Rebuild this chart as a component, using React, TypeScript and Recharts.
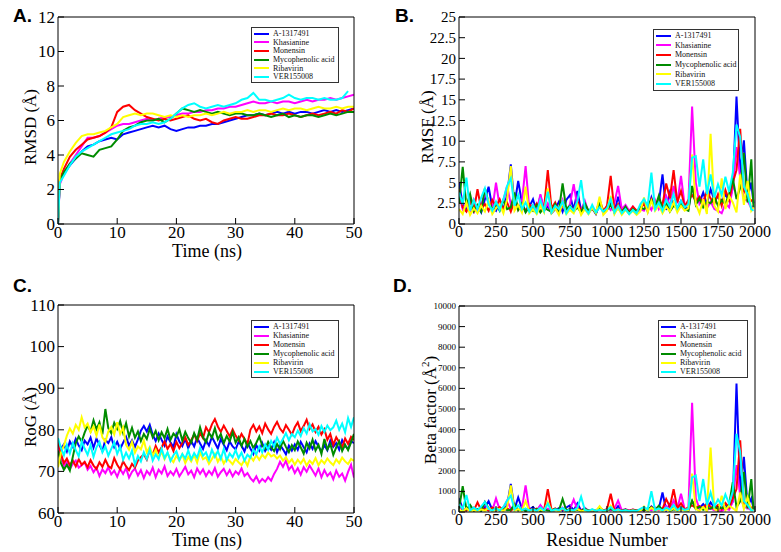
import React from "react";
import { LineChart, Line, XAxis, YAxis } from "recharts";

const seriesNames = ["A-1317491", "Khasianine", "Monensin", "Mycophenolic acid", "Ribavirin", "VER155008"];
const seriesKeys = ["a1317491", "khasianine", "monensin", "mycophenolic", "ribavirin", "ver155008"];
const seriesColors = ["#0000ff", "#ff00ff", "#ff0000", "#008b00", "#ffff00", "#00ffff"];

// A. RMSD (Å) over time (ns)
const rmsdTime = [0, 0.3, 1, 2, 3, 4, 5, 6, 7, 8, 9, 10, 11, 12, 13, 14, 15, 16, 17, 18, 19, 20, 21, 22, 23, 24, 25,
  26, 27, 28, 29, 30, 31, 32, 33, 34, 35, 36, 37, 38, 39, 40, 41, 42, 43, 44, 45, 46, 47, 48, 49, 50];
const rmsdA1317491 = [0, 2.5, 2.9, 3.4, 3.8, 4.2, 4.5, 4.6, 4.8, 4.9, 5.0, 4.9, 5.2, 5.3, 5.4, 5.5, 5.6, 5.7, 5.6, 5.7,
  5.5, 5.4, 5.5, 5.6, 5.6, 5.7, 5.7, 5.8, 5.8, 5.9, 6.0, 6.1, 6.2, 6.3, 6.3, 6.4, 6.3, 6.4, 6.5, 6.4, 6.5, 6.4, 6.5,
  6.5, 6.4, 6.5, 6.6, 6.5, 6.6, 6.5, 6.6, 6.7];
const rmsdKhasianine = [0, 2.3, 2.9, 3.5, 4.0, 4.5, 5.0, 5.0, 5.1, 5.3, 5.5, 5.7, 5.8, 5.8, 5.9, 6.0, 6.1, 6.0, 6.1, 6.2,
  6.2, 6.3, 6.4, 6.4, 6.5, 6.5, 6.6, 6.6, 6.7, 6.7, 6.8, 6.8, 6.9, 7.0, 7.1, 7.0, 7.0, 7.1, 7.0, 7.1, 7.1, 7.0, 7.1,
  7.2, 7.1, 7.2, 7.2, 7.3, 7.2, 7.3, 7.4, 7.5];
const rmsdMonensin = [0, 2.6, 3.2, 3.9, 4.3, 4.6, 4.9, 5.0, 5.1, 5.3, 5.6, 6.5, 6.8, 6.9, 6.6, 6.4, 6.2, 6.1, 6.0, 6.1,
  6.0, 6.1, 6.2, 6.3, 6.1, 6.0, 6.1, 5.9, 5.8, 6.0, 6.1, 6.2, 6.1, 6.1, 6.2, 6.3, 6.3, 6.4, 6.3, 6.3, 6.4, 6.3, 6.2,
  6.3, 6.4, 6.3, 6.4, 6.5, 6.4, 6.6, 6.5, 6.7];
const rmsdMycophenolic = [0, 2.5, 3.0, 3.5, 3.8, 4.1, 4.0, 3.9, 4.3, 4.4, 4.5, 4.9, 5.4, 5.6, 5.7, 5.9, 6.0, 6.0, 6.1,
  5.9, 6.1, 6.4, 6.7, 6.6, 6.5, 6.6, 6.5, 6.4, 6.5, 6.4, 6.3, 6.4, 6.4, 6.3, 6.3, 6.4, 6.3, 6.2, 6.3, 6.4, 6.2, 6.3,
  6.2, 6.3, 6.3, 6.2, 6.3, 6.4, 6.3, 6.4, 6.5, 6.5];
const rmsdRibavirin = [0, 2.9, 3.6, 4.2, 4.7, 5.1, 5.2, 5.2, 5.3, 5.4, 5.6, 5.8, 6.2, 6.3, 6.4, 6.3, 6.4, 6.4, 6.3, 6.2,
  6.3, 6.2, 6.3, 6.2, 6.3, 6.3, 6.4, 6.3, 6.4, 6.5, 6.4, 6.5, 6.5, 6.6, 6.5, 6.6, 6.6, 6.5, 6.6, 6.7, 6.6, 6.7, 6.7,
  6.6, 6.7, 6.8, 6.7, 6.7, 6.8, 6.7, 6.8, 6.8];
const rmsdVer155008 = [0, 2.4, 2.8, 3.4, 3.9, 4.2, 4.4, 4.6, 4.8, 5.0, 5.2, 5.3, 5.4, 5.5, 5.7, 5.8, 5.8, 5.9, 5.8, 5.9,
  6.1, 6.4, 6.7, 6.9, 7.0, 6.8, 6.7, 6.8, 6.9, 6.8, 6.9, 7.0, 7.2, 7.3, 7.6, 7.2, 7.2, 7.1, 7.2, 7.3, 7.5, 7.3, 7.2,
  7.3, 7.3, 7.2, 7.3, 7.2, 7.2, 7.3, 7.7];

// C. RoG (Å) over time, sampled every 0.5 ns
const rogTime = Array.from({ length: 101 }, (_, i) => i * 0.5);
const rogA1317491 = [
  77, 75.5, 76.5, 74.8, 77.2, 75.9, 77.8, 76.2, 75.1, 77.4,
  76.5, 78.1, 75.7, 77.9, 76.3, 74.9, 77.6, 76.8, 78.2, 75.8,
  77.1, 75.4, 76.9, 78.3, 76.2, 77.5, 75.9, 77.7, 79.8, 80.9,
  79.6, 81.2, 78.8, 77.3, 79.1, 77.6, 76.2, 78.4, 77.0, 75.8,
  78.9, 77.2, 76.1, 77.8, 75.6, 77.3, 76.0, 78.1, 76.7, 75.4,
  77.5, 76.2, 78.3, 76.9, 75.5, 77.8, 76.4, 75.1, 77.2, 76.0,
  75.3, 77.1, 76.2, 74.8, 76.9, 75.5, 74.2, 76.3, 75.0, 76.8,
  74.9, 76.1, 75.2, 77.0, 74.6, 76.4, 75.3, 74.1, 76.2, 75.0,
  76.5, 75.2, 77.1, 75.8, 74.6, 76.7, 75.4, 77.3, 76.0, 74.8,
  76.3, 75.1, 77.4, 75.9, 76.8, 75.2, 77.5, 76.1, 75.4, 77.3,
  76.8];
const rogKhasianine = [
  76.0, 73.5, 71.2, 72.4, 70.6, 71.8, 72.6, 70.9, 71.5, 72.2,
  70.4, 71.3, 69.8, 70.9, 68.9, 70.5, 69.6, 71.0, 69.3, 70.2,
  68.7, 70.6, 69.4, 70.8, 68.5, 69.9, 70.7, 69.0, 70.3, 68.4,
  70.1, 69.2, 70.9, 68.6, 70.4, 69.5, 71.2, 68.9, 70.0, 69.1,
  70.6, 68.8, 69.9, 71.1, 69.3, 70.2, 68.6, 70.7, 69.4, 70.5,
  68.9, 70.1, 69.2, 70.8, 68.7, 69.8, 70.6, 69.1, 70.3, 68.8,
  70.0, 69.3, 70.7, 68.9, 69.6, 68.4, 67.6, 68.8, 67.3, 68.2,
  67.5, 68.6, 67.8, 69.4, 70.6, 72.3, 71.1, 72.6, 70.4, 71.3,
  69.6, 70.8, 69.2, 71.0, 69.9, 71.4, 70.2, 69.0, 70.7, 68.6,
  70.3, 68.9, 69.7, 68.1, 70.2, 68.7, 69.5, 67.8, 69.9, 71.6,
  68.5];
const rogMonensin = [
  77.0, 74.2, 72.0, 73.1, 71.5, 72.6, 71.2, 72.9, 71.6, 72.3,
  71.0, 72.7, 71.4, 70.6, 72.2, 71.1, 72.8, 71.3, 70.8, 73.2,
  71.6, 70.5, 72.4, 71.2, 70.3, 71.8, 70.9, 72.6, 73.4, 74.1,
  72.8, 75.2, 74.0, 76.1, 74.6, 75.8, 77.2, 75.4, 76.6, 74.9,
  77.1, 75.6, 76.8, 78.2, 76.4, 77.5, 78.9, 77.3, 79.2, 78.0,
  80.6, 79.4, 81.3, 82.6, 80.8, 79.5, 81.0, 79.7, 78.4, 80.1,
  78.6, 77.5, 79.0, 77.8, 76.6, 80.0, 81.2, 79.6, 80.8, 79.2,
  81.5, 80.1, 79.0, 80.7, 81.9, 80.3, 79.4, 81.1, 80.0, 78.8,
  80.6, 81.8, 79.7, 80.9, 82.4, 80.2, 81.3, 79.5, 80.7, 78.9,
  80.1, 77.6, 79.0, 76.4, 78.2, 77.0, 75.8, 77.9, 76.6, 78.3,
  77.5];
const rogMycophenolic = [
  75.0, 72.0, 70.4, 71.6, 70.2, 73.5, 76.8, 78.4, 77.2, 79.3,
  81.0, 79.6, 82.3, 80.1, 81.8, 78.9, 85.0, 80.4, 79.2, 81.7,
  80.2, 82.1, 79.3, 81.6, 78.4, 80.5, 78.1, 79.6, 77.3, 79.0,
  77.8, 80.3, 78.2, 79.7, 77.5, 79.4, 78.0, 80.2, 77.6, 79.1,
  78.3, 80.1, 77.4, 79.5, 78.0, 76.9, 79.2, 77.6, 80.6, 78.2,
  77.0, 79.3, 78.1, 80.4, 77.7, 79.0, 76.8, 78.5, 77.2, 79.4,
  76.9, 78.2, 76.1, 77.8, 75.9, 77.3, 75.6, 76.9, 78.4, 76.2,
  75.4, 77.1, 75.8, 74.9, 76.6, 75.3, 77.4, 75.9, 74.6, 76.3,
  75.1, 77.2, 75.8, 74.3, 76.9, 75.5, 77.6, 75.0, 76.4, 74.2,
  77.8, 75.3, 76.6, 74.0, 75.8, 77.2, 74.9, 76.4, 75.1, 77.0,
  79.0];
const rogRibavirin = [
  71.0, 74.5, 76.2, 78.6, 80.3, 79.1, 81.2, 80.0, 83.0, 80.6,
  81.5, 79.4, 80.8, 78.6, 81.3, 78.2, 77.1, 79.6, 80.7, 78.9,
  81.8, 79.0, 80.6, 76.4, 75.2, 77.1, 74.5, 76.0, 75.3, 77.4,
  74.6, 75.9, 73.8, 75.2, 73.3, 74.7, 72.9, 74.4, 73.0, 72.2,
  73.8, 72.6, 74.1, 72.0, 73.5, 72.4, 73.9, 72.1, 74.6, 72.9,
  73.4, 71.8, 73.0, 74.2, 72.3, 73.6, 71.9, 73.1, 72.5, 71.7,
  73.0, 72.2, 71.5, 72.8, 71.4, 73.6, 72.6, 73.9, 72.8, 74.0,
  73.2, 74.5, 73.6, 74.0, 73.1, 73.8, 72.6, 73.4, 72.1, 72.9,
  71.6, 72.8, 71.9, 73.0, 71.4, 72.6, 71.8, 73.2, 71.5, 72.7,
  71.9, 73.1, 72.2, 71.5, 72.9, 72.0, 73.3, 72.4, 71.8, 73.0,
  72.5];
const rogVer155008 = [
  78.0, 75.6, 73.9, 76.4, 74.3, 76.8, 75.1, 73.6, 77.2, 75.5,
  74.0, 76.3, 73.5, 75.8, 77.1, 74.6, 76.0, 73.8, 75.4, 77.0,
  74.2, 75.9, 72.8, 74.5, 73.1, 75.0, 71.6, 73.7, 72.4, 74.6,
  73.0, 75.3, 72.6, 74.1, 72.9, 75.5, 73.2, 74.6, 72.5, 73.9,
  74.8, 72.7, 74.2, 73.1, 75.0, 72.9, 74.4, 73.3, 75.6, 73.8,
  74.6, 72.8, 75.2, 73.5, 74.9, 73.0, 75.4, 72.7, 74.3, 73.4,
  75.1, 73.2, 74.5, 72.6, 74.0, 73.3, 75.2, 74.1, 76.0, 74.6,
  76.5, 75.2, 77.3, 76.0, 78.1, 76.6, 77.8, 79.2, 77.5, 79.0,
  78.2, 79.8, 78.5, 80.4, 79.1, 81.3, 79.6, 80.2, 78.8, 80.9,
  79.5, 81.0, 79.9, 80.6, 82.2, 80.0, 81.5, 79.4, 82.8, 80.7,
  83.0];

// B. RMSF (Å) and D. Beta factor (Å²) per residue, sampled every 25 residues
const residues = Array.from({ length: 80 }, (_, i) => i * 25).concat([1990]);
const rmsfA1317491 = [
  5.0, 2.4, 1.6, 3.1, 1.5, 2.2, 1.4, 3.0, 4.5, 2.0,
  1.6, 2.8, 1.8, 3.5, 7.2, 2.3, 5.2, 2.6, 1.5, 2.1,
  3.0, 1.4, 3.4, 1.6, 2.2, 1.3, 1.8, 2.7, 1.5, 2.9,
  3.5, 1.7, 4.0, 1.6, 2.6, 1.3, 1.9, 1.2, 2.4, 1.5,
  1.8, 2.6, 1.4, 3.3, 1.6, 2.0, 1.3, 1.8, 1.4, 1.9,
  2.6, 1.5, 3.2, 1.8, 2.5, 6.0, 1.7, 3.8, 2.4, 1.9,
  2.8, 2.0, 1.8, 4.5, 3.0, 2.6, 3.8, 2.4, 4.2, 2.9,
  3.3, 2.5, 3.6, 2.8, 4.4, 15.4, 6.2, 10.1, 3.2, 5.0,
  2.5];
const rmsfKhasianine = [
  3.5, 1.8, 2.6, 1.4, 2.9, 1.6, 2.3, 3.8, 2.5, 1.7,
  5.0, 2.1, 2.8, 4.6, 2.4, 3.2, 1.9, 2.6, 7.0, 1.8,
  2.3, 1.5, 3.6, 1.7, 2.5, 1.4, 2.2, 1.6, 2.9, 1.5,
  2.4, 4.8, 2.1, 1.6, 2.8, 1.4, 2.0, 1.5, 2.6, 1.3,
  2.2, 1.7, 2.5, 4.6, 1.8, 2.3, 1.6, 2.1, 1.5, 1.8,
  1.6, 2.4, 1.7, 2.9, 1.8, 2.6, 3.4, 2.1, 4.6, 2.5,
  5.8, 2.2, 2.6, 14.2, 5.0, 2.4, 3.0, 1.9, 2.7, 1.8,
  1.6, 1.3, 2.5, 2.0, 4.4, 9.3, 5.5, 3.0, 2.8, 1.9,
  2.2];
const rmsfMonensin = [
  4.2, 2.0, 1.5, 2.7, 1.6, 4.2, 1.8, 2.4, 1.6, 2.9,
  2.1, 3.0, 1.8, 2.6, 1.5, 2.8, 1.7, 2.2, 1.6, 2.4,
  1.8, 2.5, 1.5, 2.0, 6.5, 1.9, 2.6, 1.5, 2.3, 1.4,
  2.1, 1.7, 2.8, 1.5, 2.2, 1.4, 1.9, 1.3, 2.9, 1.6,
  2.2, 5.8, 1.6, 2.4, 1.5, 2.0, 1.4, 2.1, 1.6, 1.9,
  2.4, 1.7, 3.0, 2.1, 2.8, 2.3, 4.9, 3.1, 6.5, 2.6,
  4.0, 2.1, 2.9, 3.5, 2.8, 3.3, 2.5, 4.0, 3.1, 2.4,
  3.6, 2.2, 4.1, 2.9, 5.0, 6.5, 11.5, 4.0, 3.3, 2.8,
  3.0];
const rmsfMycophenolic = [
  2.5, 6.9, 2.2, 3.6, 1.6, 2.3, 1.5, 4.3, 2.6, 1.8,
  2.4, 1.6, 2.9, 1.8, 2.0, 3.8, 1.7, 2.5, 1.4, 2.1,
  1.6, 2.3, 1.4, 2.0, 1.7, 1.5, 2.4, 1.6, 4.9, 1.8,
  2.2, 1.5, 2.0, 1.4, 2.5, 1.6, 1.9, 1.3, 2.6, 1.5,
  1.7, 2.3, 1.5, 1.9, 1.4, 2.1, 1.3, 1.8, 1.5, 2.0,
  1.8, 2.3, 2.9, 2.0, 3.4, 1.8, 2.6, 1.5, 2.2, 1.9,
  2.4, 1.8, 1.6, 4.6, 2.3, 3.1, 2.0, 2.7, 2.5, 3.3,
  2.2, 2.9, 2.4, 3.6, 5.5, 3.0, 4.4, 8.6, 2.6, 7.8,
  2.0];
const rmsfRibavirin = [
  1.8, 1.2, 2.6, 1.1, 1.9, 1.3, 2.2, 1.5, 2.8, 1.2,
  1.9, 2.4, 1.3, 3.0, 7.0, 1.6, 2.3, 1.4, 4.5, 1.3,
  1.8, 1.2, 2.2, 1.4, 4.3, 1.3, 1.9, 1.1, 2.6, 1.2,
  1.7, 1.3, 2.4, 1.1, 1.8, 1.2, 2.0, 1.3, 3.3, 1.1,
  1.6, 3.4, 1.2, 2.0, 1.1, 1.7, 1.2, 1.6, 1.1, 1.5,
  3.2, 1.4, 2.8, 1.6, 2.3, 1.3, 2.1, 1.5, 2.6, 1.4,
  2.2, 1.6, 1.9, 8.4, 2.4, 1.3, 3.0, 1.2, 10.9, 2.2,
  1.5, 5.5, 1.8, 3.4, 2.6, 1.4, 6.0, 2.3, 5.2, 1.6,
  2.0];
const rmsfVer155008 = [
  3.8, 2.4, 5.6, 1.6, 2.9, 1.8, 3.2, 4.3, 2.4, 1.6,
  2.7, 1.7, 3.0, 4.6, 5.5, 2.2, 3.5, 1.8, 2.6, 1.5,
  2.3, 1.4, 2.9, 1.6, 3.9, 1.4, 2.2, 1.8, 2.7, 1.3,
  2.1, 1.6, 2.8, 5.3, 1.9, 1.3, 2.3, 1.4, 2.0, 1.5,
  1.9, 3.0, 1.4, 2.2, 1.3, 1.8, 1.2, 1.7, 1.3, 2.4,
  3.0, 2.2, 6.2, 1.8, 2.6, 1.6, 2.9, 2.1, 3.6, 1.9,
  2.8, 2.0, 2.4, 8.0, 8.2, 4.5, 7.8, 3.6, 6.0, 3.2,
  4.8, 3.5, 5.7, 3.9, 6.2, 12.0, 10.5, 4.5, 3.6, 1.8,
  1.6];

const betaA1317491 = [
  660, 150, 70, 250, 60, 130, 50, 240, 530, 105,
  70, 205, 85, 320, 1360, 140, 710, 180, 60, 115,
  240, 50, 300, 70, 130, 45, 85, 190, 60, 220,
  320, 75, 420, 70, 180, 45, 95, 40, 150, 60,
  85, 180, 50, 285, 70, 105, 45, 85, 50, 95,
  180, 60, 270, 85, 165, 950, 75, 380, 150, 95,
  205, 105, 85, 530, 240, 180, 380, 150, 465, 220,
  285, 165, 340, 205, 510, 6240, 1010, 2680, 270, 660,
  165];
const betaKhasianine = [
  320, 85, 180, 50, 220, 70, 140, 380, 165, 75,
  660, 115, 205, 555, 150, 270, 95, 180, 1290, 85,
  140, 60, 340, 75, 165, 50, 130, 70, 220, 60,
  150, 605, 115, 70, 205, 50, 105, 60, 180, 45,
  130, 75, 165, 555, 85, 140, 70, 115, 60, 85,
  70, 150, 75, 220, 85, 180, 305, 115, 555, 165,
  885, 130, 180, 5300, 660, 150, 240, 95, 190, 85,
  70, 45, 165, 105, 510, 2275, 795, 240, 205, 95,
  130];
const betaMonensin = [
  465, 105, 60, 190, 70, 465, 85, 150, 70, 220,
  115, 240, 85, 180, 60, 205, 75, 130, 70, 150,
  85, 165, 60, 105, 1110, 95, 180, 60, 140, 50,
  115, 75, 205, 60, 130, 50, 95, 45, 220, 70,
  130, 885, 70, 150, 60, 105, 50, 115, 70, 95,
  150, 75, 240, 115, 205, 140, 630, 255, 1110, 180,
  420, 115, 220, 320, 205, 285, 165, 420, 255, 150,
  340, 130, 440, 220, 660, 1110, 3480, 420, 285, 205,
  240];
const betaMycophenolic = [
  165, 1250, 130, 340, 70, 140, 60, 485, 180, 85,
  150, 70, 220, 85, 105, 380, 75, 165, 50, 115,
  70, 140, 50, 105, 75, 60, 150, 70, 630, 85,
  130, 60, 105, 50, 165, 70, 95, 45, 180, 60,
  75, 140, 60, 95, 50, 115, 45, 85, 60, 105,
  85, 140, 220, 105, 305, 85, 180, 60, 130, 95,
  150, 85, 70, 555, 140, 255, 105, 190, 165, 285,
  130, 220, 150, 340, 1450, 240, 510, 1945, 180, 1600,
  105];
const betaRibavirin = [
  85, 40, 180, 30, 95, 45, 130, 60, 205, 40,
  95, 150, 45, 240, 1290, 70, 140, 50, 530, 45,
  85, 40, 130, 50, 485, 45, 95, 30, 180, 40,
  75, 45, 150, 30, 85, 40, 105, 45, 285, 30,
  70, 305, 40, 105, 30, 75, 40, 70, 30, 60,
  270, 50, 205, 70, 140, 45, 115, 60, 180, 50,
  130, 70, 95, 1860, 150, 45, 240, 40, 3125, 130,
  60, 795, 85, 305, 180, 50, 945, 140, 710, 70,
  105];
const betaVer155008 = [
  380, 150, 825, 70, 220, 85, 270, 485, 150, 70,
  190, 75, 240, 555, 795, 130, 320, 85, 180, 60,
  140, 50, 220, 70, 400, 50, 130, 85, 190, 45,
  115, 70, 205, 740, 95, 45, 140, 50, 105, 60,
  95, 240, 50, 130, 45, 85, 40, 75, 45, 150,
  240, 130, 1010, 85, 180, 70, 220, 115, 340, 95,
  205, 105, 150, 1680, 1770, 530, 1600, 340, 945, 270,
  605, 320, 855, 400, 1010, 3790, 2900, 530, 340, 85,
  70];

const buildRows = (xKey: string, xs: number[], cols: number[][]) =>
  xs.map((x, i) => {
    const row: Record<string, number> = { [xKey]: x };
    seriesKeys.forEach((k, j) => {
      row[k] = cols[j][i];
    });
    return row;
  });

const rmsdRows = buildRows("t", rmsdTime, [rmsdA1317491, rmsdKhasianine, rmsdMonensin, rmsdMycophenolic, rmsdRibavirin, rmsdVer155008]);
const rogRows = buildRows("t", rogTime, [rogA1317491, rogKhasianine, rogMonensin, rogMycophenolic, rogRibavirin, rogVer155008]);
const rmsfRows = buildRows("res", residues, [rmsfA1317491, rmsfKhasianine, rmsfMonensin, rmsfMycophenolic, rmsfRibavirin, rmsfVer155008]);
const betaRows = buildRows("res", residues, [betaA1317491, betaKhasianine, betaMonensin, betaMycophenolic, betaRibavirin, betaVer155008]);

const serif = "'Liberation Serif', 'DejaVu Serif', serif";

// plain serif tick labels (bottom: hang below the point, left: right aligned)
const bottomTick = (size: number) => (p: any) => (
  <text x={p.x} y={p.y} dy="0.71em" textAnchor="middle" fontFamily={serif} fontSize={size} fill="#000">
    {p.payload.value}
  </text>
);
const leftTick = (size: number) => (p: any) => (
  <text x={p.x} y={p.y} dy="0.34em" textAnchor="end" fontFamily={serif} fontSize={size} fill="#000">
    {p.payload.value}
  </text>
);

type FrameOpts = {
  xKey: string;
  xDomain: [number, number];
  xMajor: number[];
  xMinor: number[];
  yDomain: [number, number];
  yMajor: number[];
  yMinor: number[];
  xFont: number;
  yFont: number;
};

// box frame with inward ticks on all four sides, like the xmgrace originals.
// axes are 1px thick (0 makes recharts skip them), so each side eats 2px of the margin
const frameAxes = (o: FrameOpts) => [
  <XAxis key="xb" xAxisId="xb" dataKey={o.xKey} type="number" domain={o.xDomain} ticks={o.xMajor} interval={0}
    allowDataOverflow height={1} stroke="#000" tickSize={-6} tickMargin={8} tick={bottomTick(o.xFont)} />,
  <XAxis key="xbm" xAxisId="xbm" type="number" domain={o.xDomain} ticks={o.xMinor} interval={0}
    allowDataOverflow height={1} stroke="#000" axisLine={false} tickSize={-4} tick={false} />,
  <XAxis key="xt" xAxisId="xt" orientation="top" type="number" domain={o.xDomain} ticks={o.xMajor} interval={0}
    allowDataOverflow height={1} stroke="#000" tickSize={-6} tick={false} />,
  <XAxis key="xtm" xAxisId="xtm" orientation="top" type="number" domain={o.xDomain} ticks={o.xMinor} interval={0}
    allowDataOverflow height={1} stroke="#000" axisLine={false} tickSize={-4} tick={false} />,
  <YAxis key="yl" yAxisId="yl" type="number" domain={o.yDomain} ticks={o.yMajor} interval={0}
    allowDataOverflow width={1} stroke="#000" tickSize={-6} tickMargin={9} tick={leftTick(o.yFont)} />,
  <YAxis key="ylm" yAxisId="ylm" type="number" domain={o.yDomain} ticks={o.yMinor} interval={0}
    allowDataOverflow width={1} stroke="#000" axisLine={false} tickSize={-4} tick={false} />,
  <YAxis key="yr" yAxisId="yr" orientation="right" type="number" domain={o.yDomain} ticks={o.yMajor} interval={0}
    allowDataOverflow width={1} stroke="#000" tickSize={-6} tick={false} />,
  <YAxis key="yrm" yAxisId="yrm" orientation="right" type="number" domain={o.yDomain} ticks={o.yMinor} interval={0}
    allowDataOverflow width={1} stroke="#000" axisLine={false} tickSize={-4} tick={false} />,
];

const seriesLines = () =>
  seriesKeys.map((k, i) => (
    <Line key={k} xAxisId="xb" yAxisId="yl" type="linear" dataKey={k} stroke={seriesColors[i]}
      strokeWidth={2} dot={false} isAnimationActive={false} />
  ));

const LegendBox = ({ left, top, width, height }: { left: number; top: number; width: number; height: number }) => (
  <div style={{ position: "absolute", left, top, width, height, boxSizing: "border-box", border: "1px solid #333",
    background: "#fff", fontFamily: serif, fontSize: 8, color: "#111" }}>
    {seriesNames.map((name, i) => (
      <div key={name} style={{ position: "absolute", left: 2, top: 1 + i * ((height - 4) / 6), height: 9,
        display: "flex", alignItems: "center", whiteSpace: "nowrap" }}>
        <span style={{ display: "inline-block", width: 15, height: 2, background: seriesColors[i], marginRight: 4 }} />
        {name}
      </div>
    ))}
  </div>
);

const PanelTag = ({ left, top, text }: { left: number; top: number; text: string }) => (
  <div style={{ position: "absolute", left, top, fontFamily: "'Liberation Sans', Arial, sans-serif", fontWeight: 700,
    fontSize: 19, lineHeight: "19px" }}>{text}</div>
);

const XTitle = ({ x, y, children }: { x: number; y: number; children: React.ReactNode }) => (
  <div style={{ position: "absolute", left: x, top: y, transform: "translate(-50%, -50%)", whiteSpace: "nowrap",
    fontFamily: serif, fontSize: 18, lineHeight: "17px" }}>{children}</div>
);

const YTitle = ({ x, y, children }: { x: number; y: number; children: React.ReactNode }) => (
  <div style={{ position: "absolute", left: x, top: y, transform: "translate(-50%, -50%) rotate(-90deg)",
    whiteSpace: "nowrap", fontFamily: serif, fontSize: 17, lineHeight: "17px" }}>{children}</div>
);

export default function App() {
  return (
    <div style={{ position: "absolute", left: 0, top: 0, width: 781, height: 552, background: "#fff", overflow: "hidden",
      fontFamily: serif }}>
      {/* A. RMSD */}
      <div style={{ position: "absolute", left: 0, top: 0 }}>
        <LineChart width={390} height={270} data={rmsdRows} margin={{ top: 15, left: 56, right: 34, bottom: 44 }}>
          {frameAxes({ xKey: "t", xDomain: [0, 50], xMajor: [0, 10, 20, 30, 40, 50], xMinor: [5, 15, 25, 35, 45],
            yDomain: [0, 12], yMajor: [0, 2, 4, 6, 8, 10, 12], yMinor: [1, 3, 5, 7, 9, 11], xFont: 17, yFont: 17 })}
          {seriesLines()}
        </LineChart>
      </div>
      {/* B. RMSF */}
      <div style={{ position: "absolute", left: 390, top: 0 }}>
        <LineChart width={391} height={270} data={rmsfRows} margin={{ top: 15, left: 67, right: 24, bottom: 44 }}>
          {frameAxes({ xKey: "res", xDomain: [0, 2000], xMajor: [0, 250, 500, 750, 1000, 1250, 1500, 1750, 2000],
            xMinor: [125, 375, 625, 875, 1125, 1375, 1625, 1875],
            yDomain: [0, 25], yMajor: [0, 2.5, 5, 7.5, 10, 12.5, 15, 17.5, 20, 22.5, 25],
            yMinor: [1.25, 3.75, 6.25, 8.75, 11.25, 13.75, 16.25, 18.75, 21.25, 23.75], xFont: 16, yFont: 15 })}
          {seriesLines()}
        </LineChart>
      </div>
      {/* C. RoG */}
      <div style={{ position: "absolute", left: 0, top: 270 }}>
        <LineChart width={390} height={282} data={rogRows} margin={{ top: 33, left: 56, right: 34, bottom: 37 }}>
          {frameAxes({ xKey: "t", xDomain: [0, 50], xMajor: [0, 10, 20, 30, 40, 50], xMinor: [5, 15, 25, 35, 45],
            yDomain: [60, 110], yMajor: [60, 70, 80, 90, 100, 110], yMinor: [65, 75, 85, 95, 105], xFont: 17, yFont: 17 })}
          {seriesLines()}
        </LineChart>
      </div>
      {/* D. Beta factor */}
      <div style={{ position: "absolute", left: 390, top: 270 }}>
        <LineChart width={391} height={282} data={betaRows} margin={{ top: 34, left: 67, right: 24, bottom: 38 }}>
          {frameAxes({ xKey: "res", xDomain: [0, 2000], xMajor: [0, 250, 500, 750, 1000, 1250, 1500, 1750, 2000],
            xMinor: [125, 375, 625, 875, 1125, 1375, 1625, 1875],
            yDomain: [0, 10000], yMajor: [0, 1000, 2000, 3000, 4000, 5000, 6000, 7000, 8000, 9000, 10000],
            yMinor: [500, 1500, 2500, 3500, 4500, 5500, 6500, 7500, 8500, 9500], xFont: 16, yFont: 9 })}
          {seriesLines()}
        </LineChart>
      </div>

      <PanelTag left={13} top={6} text="A." />
      <PanelTag left={395} top={6} text="B." />
      <PanelTag left={13} top={276} text="C." />
      <PanelTag left={393} top={276} text="D." />

      <YTitle x={30} y={127}>RMSD (Å)</YTitle>
      <XTitle x={207} y={251}>Time (ns)</XTitle>
      <YTitle x={427} y={127}>RMSF (Å)</YTitle>
      <XTitle x={603} y={251}>Residue Number</XTitle>
      <YTitle x={30} y={417}>RoG (Å)</YTitle>
      <XTitle x={207} y={540}>Time (ns)</XTitle>
      <YTitle x={428} y={410}>Beta factor (Å<sup style={{ fontSize: 11 }}>2</sup>)</YTitle>
      <XTitle x={607} y={540}>Residue Number</XTitle>

      <LegendBox left={251} top={27} width={88} height={56} />
      <LegendBox left={653} top={29} width={86} height={62} />
      <LegendBox left={251} top={320} width={88} height={58} />
      <LegendBox left={658} top={320} width={90} height={58} />
    </div>
  );
}
